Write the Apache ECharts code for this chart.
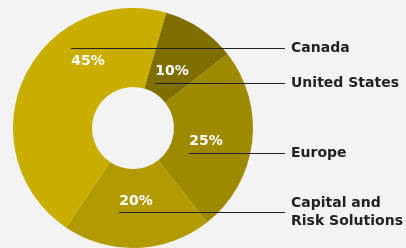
<!DOCTYPE html>
<html>
<head>
<meta charset="utf-8">
<script src="https://cdn.jsdelivr.net/npm/echarts@6/dist/echarts.min.js"></script>
<style>
  html, body { margin: 0; padding: 0; background: #f3f3f3; }
  #chart { width: 406px; height: 248px; }
</style>
</head>
<body>
<div id="chart"></div>
<script>
// data, in clockwise order starting at the top
const regions = ['United States', 'Europe', 'Capital and\nRisk Solutions', 'Canada']
const shares = [10, 25, 20, 45]
const sliceColors = ['#7e6f00', '#9e8a00', '#b19b00', '#c9ae00']

// where the annotations sit (percent label left edge / centre y, leader line y)
const pctPos = [[155, 71], [189, 141], [119, 201], [71, 61]]
const lineY = [83, 153, 212, 48]
const lineEndX = 285
const nameX = 291
const pctHalfWidth = 17

const font = 'DejaVu Sans'

const chart = echarts.init(document.getElementById('chart'))

const pieData = regions.map((name, i) => ({
  name: name,
  value: shares[i],
  itemStyle: { color: sliceColors[i] }
}))

// leader lines from each percent label out to the region name
const leaders = regions.map((name, i) => ({
  type: 'line',
  silent: true,
  z: 100,
  shape: {
    x1: pctPos[i][0], y1: lineY[i] + 0.5,
    x2: lineEndX, y2: lineY[i] + 0.5
  },
  style: { stroke: '#222222', lineWidth: 1 }
}))

chart.setOption({
  backgroundColor: '#f3f3f3',
  animation: false,
  graphic: leaders,
  series: [
    {
      type: 'pie',
      center: [133, 128],
      radius: [41, 120],
      startAngle: 74,
      avoidLabelOverlap: false,
      silent: true,
      data: pieData,
      label: {
        show: true,
        position: 'inside',
        formatter: '{c}%',
        color: '#ffffff',
        fontFamily: font,
        fontWeight: 'bold',
        fontSize: 14
      },
      labelLayout: function (p) {
        const pos = pctPos[p.dataIndex]
        return { x: pos[0] + pctHalfWidth, y: pos[1] }
      }
    },
    {
      type: 'pie',
      center: [133, 128],
      radius: [41, 120],
      startAngle: 74,
      avoidLabelOverlap: false,
      silent: true,
      data: pieData.map(d => ({ name: d.name, value: d.value })),
      itemStyle: { color: 'rgba(0,0,0,0)' },
      label: {
        show: true,
        position: 'outside',
        formatter: '{b}',
        color: '#222222',
        fontFamily: font,
        fontWeight: 'bold',
        fontSize: 14,
        lineHeight: 18
      },
      labelLine: { show: false },
      labelLayout: function (p) {
        return { x: nameX, y: lineY[p.dataIndex], align: 'left', verticalAlign: 'middle' }
      }
    }
  ]
})
</script>
</body>
</html>
